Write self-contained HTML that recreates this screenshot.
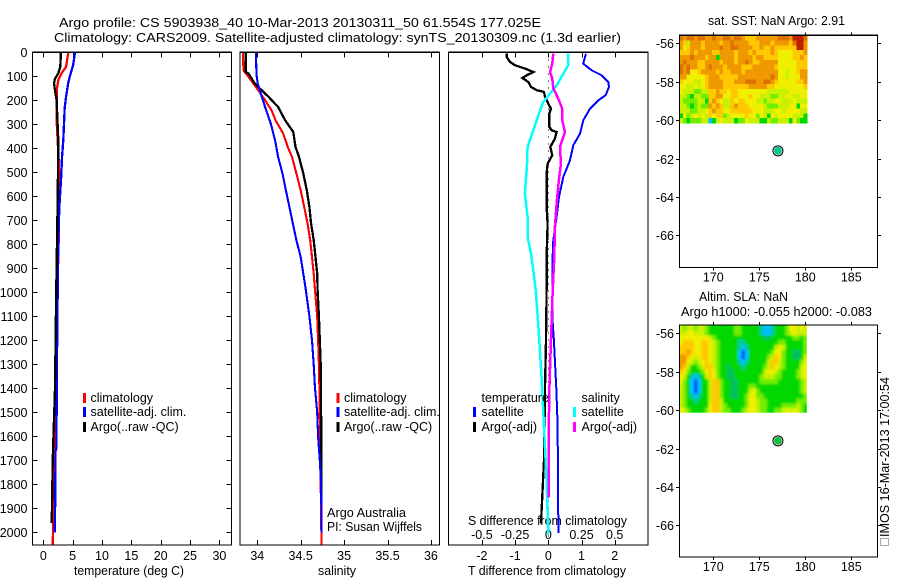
<!DOCTYPE html>
<html lang="en">
<head>
<meta charset="utf-8">
<title>Argo profile CS 5903938_40</title>
<style>
html,body{margin:0;padding:0;background:#fff;}
svg{display:block;}
text{font-family:"Liberation Sans",sans-serif;font-size:12.5px;fill:#000;}
</style>
</head>
<body>
<svg id="chart" xmlns="http://www.w3.org/2000/svg" width="900" height="580" viewBox="0 0 900 580">
<defs>
<filter id="smooth" x="-5%" y="-5%" width="110%" height="110%"><feGaussianBlur stdDeviation="1.1"/></filter>
<clipPath id="sla-clip"><rect x="679.5" y="325" width="127.2" height="87.6"/></clipPath>
</defs>
<rect x="0" y="0" width="900" height="580" fill="#fff"/>
<text x="59" y="27" textLength="482" lengthAdjust="spacingAndGlyphs">Argo profile: CS 5903938_40 10-Mar-2013 20130311_50 61.554S 177.025E</text>
<text x="54" y="42" textLength="567" lengthAdjust="spacingAndGlyphs">Climatology: CARS2009. Satellite-adjusted climatology: synTS_20130309.nc (1.3d earlier)</text>
<text x="74" y="575" textLength="110" lengthAdjust="spacingAndGlyphs">temperature (deg C)</text>
<text x="318" y="575" textLength="38" lengthAdjust="spacingAndGlyphs">salinity</text>
<text x="468" y="575" textLength="158" lengthAdjust="spacingAndGlyphs">T difference from climatology</text>
<text x="468" y="525" textLength="159" lengthAdjust="spacingAndGlyphs">S difference from climatology</text>
<text x="327" y="517" textLength="79" lengthAdjust="spacingAndGlyphs">Argo Australia</text>
<text x="327" y="531" textLength="95" lengthAdjust="spacingAndGlyphs">PI: Susan Wijffels</text>
<text x="708" y="25" textLength="137" lengthAdjust="spacingAndGlyphs">sat. SST: NaN Argo: 2.91</text>
<text x="699" y="301" textLength="89" lengthAdjust="spacingAndGlyphs">Altim. SLA: NaN</text>
<text x="681" y="316" textLength="191" lengthAdjust="spacingAndGlyphs">Argo h1000: -0.055 h2000: -0.083</text>
<rect x="880.5" y="538.5" width="8" height="7" fill="none" stroke="#555" stroke-width="1" stroke-dasharray="1 1"/>
<text transform="translate(889,537) rotate(-90)" textLength="160" lengthAdjust="spacingAndGlyphs">IMOS 16-Mar-2013 17:00:54</text>
</svg>
<script>
// ---- depth axis ----
const depthTicks = [0,100,200,300,400,500,600,700,800,900,1000,1100,1200,1300,1400,1500,1600,1700,1800,1900,2000];
// ---- temperature panel ----
const tempTicks = [0,5,10,15,20,25,30];
const tempClimDepth = [0,61,88,116,158,283,500,800,1100,1400,1800,2050];
const tempClim = [4.27,3.87,3.1,2.56,2.27,2.27,2.73,2.6,2.3,2.1,1.87,1.6];
const tempSatDepth = [0,52,88,125,187,230,366,437,510,650,790,1100,1400,1650,1660,1950,2000];
const tempSat = [5.4,5.1,4.66,4.26,3.87,3.64,3.4,3.18,3.07,2.73,2.56,2.4,2.28,2.25,2.1,2.0,1.95];
const tempArgoDepth = [0,60,88,110,130,165,200,366,500,713,1000,1400,1700,1900,1962];
const tempArgo = [3.0,2.9,2.56,2.0,1.82,2.05,2.27,2.56,2.5,2.38,2.2,2.0,1.6,1.48,1.42];
// ---- salinity panel ----
const salTicks = [34,34.5,35,35.5,36];
const salTickLabels = ['34','34.5','35','35.5','36'];
const salClimDepth = [0,75,103,158,200,242,283,339,394,436,505,575,644,714,783,853,922,992,1100,1200,1300,1400,2050];
const salClim = [33.835,33.84,33.9,34.01,34.09,34.165,34.21,34.3,34.35,34.4,34.45,34.5,34.54,34.58,34.61,34.63,34.65,34.665,34.69,34.7,34.71,34.715,34.74];
const salSatDepth = [0,89,130,172,228,297,367,436,505,575,644,714,783,853,922,992,1100,1200,1300,1400,1500,1600,1700,1800,1950,2000];
const salSat = [33.985,33.99,34.005,34.04,34.09,34.155,34.205,34.24,34.29,34.33,34.37,34.41,34.45,34.5,34.53,34.56,34.6,34.63,34.65,34.665,34.69,34.7,34.72,34.735,34.74,34.74];
const salArgoDepth = [0,82,89,130,158,186,228,283,332,394,436,505,575,644,714,783,853,922,992,1100,1200,1300,1400,1950];
const salArgo = [33.866,33.866,33.9,33.97,34.05,34.13,34.24,34.32,34.415,34.44,34.48,34.53,34.57,34.6,34.62,34.65,34.67,34.69,34.695,34.71,34.72,34.73,34.734,34.74];
// ---- difference panel ----
const tDiffTicks = [-2,-1,0,1,2];
const sDiffTicks = [-0.5,-0.25,0,0.25,0.5];
const sDiffTickLabels = ['-0.5','-0.25','0','0.25','0.5'];
const tArgoDepth = [6,19,40,54,68,82,96,107,124,144,158,165,186,214,235,256,311,325,332,360,394,429,464,506,644,714,853,992,1100,1200,1400,1700,1900,1963];
const tArgoDiff = [-1.255,-1.255,-1.155,-1.0,-0.7,-0.45,-0.65,-0.78,-0.6,-0.52,-0.35,-0.13,-0.1,0,0.08,0.03,0.03,0.1,0.25,0.2,0.06,0.12,-0.02,-0.05,-0.05,-0.02,-0.05,-0.05,-0.06,-0.07,-0.1,-0.13,-0.2,-0.22];
const tSatDepth = [6,47,75,96,124,144,179,200,235,283,339,387,450,519,603,686,783,853,992,1100,1200,1400,1550,1950,2003];
const tSatDiff = [1.135,1.05,1.305,1.606,1.807,1.827,1.727,1.506,1.255,1.054,0.954,0.753,0.653,0.452,0.321,0.251,0.151,0.13,0.12,0.12,0.17,0.24,0.28,0.3,0.3];
const sSatDepth = [6,54,89,138,172,207,262,325,394,478,589,686,769,839,908,992,1100,1200,1366,1500,1783,2010];
const sSatDiff = [0.15,0.15,0.113,0.063,0.0125,-0.038,-0.075,-0.113,-0.156,-0.161,-0.176,-0.156,-0.156,-0.13,-0.113,-0.095,-0.08,-0.068,-0.05,-0.038,-0.0125,0];
const sArgoDepth = [6,47,82,110,151,193,235,283,332,394,464,533,617,728,853,992,1366,1500,1785,1855];
const sArgoDiff = [0.038,0.03,0.0125,0.03,0.038,0.075,0.105,0.105,0.125,0.088,0.095,0.08,0.065,0.05,0.045,0.033,0.01,0.005,0.003,0.003];
// ---- maps ----
const mapLonTicks = [170,175,180,185];
const mapLatTicks = [-56,-58,-60,-62,-64,-66];
const floatLon = [177.025];
const floatLat = [-61.6];
const levelColors = ['#0050ff','#00c0ff','#00c8a0','#00d800','#70ee00','#c8f000','#eef000','#ffc800','#f09800','#e07000','#c02000','#00c060'];
const sstGrid = [
[9,8,9,9,8,9,9,8,8,9,8,8,9,9,8,9,9,8,7,7,7,8,8,8,8,8,8,9,9,9,8,10,10,10,9],
[8,7,5,8,8,8,7,8,8,8,8,7,8,8,9,8,8,8,8,7,7,7,8,8,8,7,8,8,8,8,7,9,10,10,8],
[8,6,7,8,8,8,7,8,8,8,8,9,8,8,9,9,8,8,8,8,7,7,8,7,7,8,7,7,7,7,7,7,10,10,8],
[7,7,7,8,7,8,8,8,8,7,7,8,8,8,8,7,8,8,8,7,8,7,7,7,7,8,7,6,6,6,6,7,7,7,8],
[8,8,8,9,8,8,8,7,8,8,3,8,8,8,8,7,8,8,8,8,7,8,8,7,7,7,7,6,6,6,6,7,7,8,7],
[8,9,8,8,8,7,7,8,8,8,8,7,8,8,8,7,8,8,9,8,7,7,8,8,8,8,8,6,6,6,6,6,7,7,7],
[9,8,9,8,8,7,7,8,9,8,8,8,7,8,8,8,8,7,7,7,8,8,8,8,8,8,7,6,6,6,6,6,7,7,7],
[9,8,9,6,6,7,8,8,8,8,7,8,7,7,8,8,8,7,8,8,8,8,8,8,8,8,8,6,6,5,6,6,7,8,8],
[8,8,6,6,6,6,6,7,8,8,8,7,7,7,7,7,8,8,8,8,8,8,8,8,8,9,8,6,6,5,6,6,6,8,8],
[7,6,6,6,5,5,6,7,8,8,8,8,7,7,7,8,8,8,9,9,9,8,8,9,9,8,7,6,6,6,6,6,7,7,8],
[6,6,5,5,6,5,6,7,8,8,8,8,7,7,7,7,7,7,7,8,8,8,8,8,7,7,6,6,6,6,6,6,6,6,7],
[6,5,5,5,4,4,5,5,7,7,8,7,7,6,7,7,6,6,6,6,6,6,6,6,5,5,5,5,5,5,6,6,6,6,6],
[5,5,4,3,5,5,4,4,7,7,8,8,6,6,7,7,6,6,6,7,6,6,5,5,5,4,4,5,5,6,6,5,5,6,6],
[5,4,4,4,4,5,5,3,7,8,7,6,5,5,7,6,7,7,6,6,6,5,5,4,5,5,6,6,5,5,5,6,5,5,5],
[5,5,4,3,4,5,4,4,8,7,8,7,5,5,7,8,7,7,7,6,6,6,6,5,4,4,4,5,5,5,6,6,3,6,6],
[5,5,5,4,4,5,5,6,7,8,7,7,6,6,7,7,7,7,7,7,6,6,6,5,5,5,6,6,5,6,6,6,6,5,5],
[3,6,4,5,6,5,6,5,7,6,7,7,4,5,6,6,6,6,7,6,6,4,6,5,3,6,5,6,6,6,6,5,5,5,3],
[5,4,3,4,4,4,5,5,1,3,5,6,5,5,5,3,4,4,6,5,5,5,3,3,5,4,4,5,5,5,3,6,4,3,3]
];
const slaGrid = [
[5,4,5,5,4,5,5,4,3,3,3,3,3,3,3,4,4,3,3,3,3,3,2,1,1,2,3,3,3,4,6,6,5,6,5],
[5,5,6,6,5,5,5,4,3,3,3,3,3,3,3,4,4,3,3,3,3,3,2,1,1,2,3,3,3,4,5,6,5,5,5],
[6,6,6,6,6,6,6,6,5,4,3,3,3,3,3,3,3,3,3,3,3,3,3,11,11,3,3,3,3,3,3,4,4,3,4],
[6,7,7,7,6,6,7,7,6,5,4,3,3,3,3,3,2,2,3,3,3,3,3,3,3,3,3,4,4,3,3,3,3,3,4],
[7,7,7,7,6,6,7,7,6,5,4,3,3,3,3,3,2,1,2,3,3,3,3,3,3,3,5,6,5,3,3,3,3,3,4],
[7,7,8,7,6,6,7,7,6,5,4,3,3,3,3,3,1,0,1,3,3,3,3,3,3,4,6,6,4,3,3,11,11,3,4],
[8,8,7,6,5,6,7,7,6,5,4,3,3,3,3,3,1,0,1,3,3,3,3,3,4,5,7,6,4,3,3,11,11,3,5],
[8,8,6,5,4,5,6,7,6,5,4,3,3,3,3,3,2,1,2,3,3,3,3,3,5,7,7,5,4,3,3,3,3,4,6],
[8,7,5,3,3,4,5,7,7,5,4,3,3,11,3,3,3,2,3,3,3,3,3,4,5,7,6,5,4,3,3,3,3,5,6],
[7,6,4,3,3,3,4,6,7,6,4,3,3,11,11,3,3,3,3,3,3,3,3,5,6,6,5,4,3,3,3,3,4,5,6],
[6,5,3,2,1,2,3,5,7,6,4,3,3,11,11,3,3,3,3,3,3,3,4,5,5,5,4,4,3,3,3,3,4,5,6],
[6,4,3,1,0,1,3,3,5,7,7,4,3,3,11,11,3,3,3,3,3,3,4,4,4,4,4,3,3,3,3,3,3,4,5],
[5,4,3,1,0,1,3,3,5,7,7,4,3,3,11,11,3,3,3,4,4,3,3,3,3,3,3,3,3,3,3,3,3,4,5],
[5,4,3,1,0,1,3,3,5,7,7,4,3,3,11,11,3,3,3,5,6,4,3,3,3,3,3,3,3,3,3,3,3,4,5],
[5,4,3,2,1,2,3,3,5,7,7,4,3,3,11,11,3,3,4,6,6,4,4,3,3,3,3,3,3,3,3,3,3,3,4],
[5,4,3,3,2,3,3,3,5,7,7,5,3,3,3,3,3,3,4,6,6,5,4,4,3,3,3,3,3,3,3,3,4,4,4],
[5,4,3,3,3,3,3,3,6,7,7,5,4,3,3,3,3,3,4,6,6,5,4,4,3,3,3,3,4,4,4,4,5,4,3],
[6,5,4,3,3,3,3,4,6,7,7,5,4,4,3,3,3,4,5,6,6,5,4,4,3,3,4,4,5,6,5,6,5,4,3]
];
const gridLonStart = 166.3;
const gridLonStep = 0.3975;
const gridLatStart = -55.6;
const gridLatStep = -0.2528;

// ---- helpers ----
const svg = document.getElementById('chart');
const NS = 'http://www.w3.org/2000/svg';
function mk(parent, tag, attrs, txt) {
  const e = document.createElementNS(NS, tag);
  for (const k in attrs) e.setAttribute(k, attrs[k]);
  if (txt !== undefined) e.textContent = txt;
  parent.appendChild(e);
  return e;
}
const top0 = 52.3, pxPerMetre = 0.24, bottom0 = 545;
function yDepth(d) { return top0 + d * pxPerMetre; }
function xTemp(v) { return 43.3 + 5.87 * v; }
function xSal(v) { return 257.3 + 86.8 * (v - 34); }
function xTDiff(v) { return 548.3 + 33.2 * v; }
function xSDiff(v) { return 548.3 + 132.8 * v; }
function lonMap(v) { return 713.3 + 9.2 * (v - 170); }
function latMap(v, m) { return m.y56 + 19.2 * (-56 - v); }

function frame(name, l, t, r, b) {
  const el = mk(svg, 'rect', {x: l, y: t, width: r - l, height: b - t, fill: 'none', stroke: '#000', 'stroke-width': 1.2, 'shape-rendering': 'crispEdges'});
  
  
}
function tick(name, x1, y1, x2, y2) {
  const el = mk(svg, 'line', {x1: x1, y1: y1, x2: x2, y2: y2, stroke: '#000', 'stroke-width': 1, 'shape-rendering': 'crispEdges'});
  
  
}
function label(name, x, y, anchor, s) {
  const el = mk(svg, 'text', {x: x, y: y, 'text-anchor': anchor}, s);
  
  
}
function series(name, color, width, depths, vals, xf) {
  const pts = depths.map((d, i) => xf(vals[i]).toFixed(1) + ',' + yDepth(d).toFixed(1)).join(' ');
  const el = mk(svg, 'polyline', {points: pts, fill: 'none', stroke: color, 'stroke-width': width, 'stroke-linejoin': 'miter', 'shape-rendering': 'crispEdges'});
  
  
}
function legendBar(name, color, x, y) {
  const el = mk(svg, 'rect', {x: x, y: y, width: 3, height: 10, fill: color, 'shape-rendering': 'crispEdges'});
  
  
}

// ---- profile panels: frames and ticks ----
const panels = [
  {name: 'temperature', l: 32.5, r: 231.5, ticks: tempTicks, labels: tempTicks.map(String), xf: xTemp},
  {name: 'salinity', l: 240, r: 439.5, ticks: salTicks, labels: salTickLabels, xf: xSal},
  {name: 'difference', l: 448.5, r: 648, ticks: tDiffTicks, labels: tDiffTicks.map(String), xf: xTDiff}
];
panels.forEach(p => {
  p.ticks.forEach((t, i) => {
    const x = Math.round(p.xf(t)) + 0.5;
    tick(p.name + '-top-tick', x, top0, x, top0 + 5);
    tick(p.name + '-bottom-tick', x, bottom0, x, bottom0 - 5);
    label(p.name + '-x-tick-label', p.xf(t), 560, 'middle', p.labels[i]);
  });
});
sDiffTicks.forEach((t, i) => {
  label('s-difference-x-tick-label', xSDiff(t), 539, 'middle', sDiffTickLabels[i]);
});
depthTicks.forEach(d => {
  const y = Math.round(yDepth(d)) + 0.5;
  tick('depth-left-tick', 32.5, y, 37.5, y);
  tick('depth-right-tick', 226.5, y, 231.5, y);
  label('depth-tick-label', 27.5, y + 4.5, 'end', String(d));
});

// ---- zero line on difference panel ----
const zeroLine = mk(svg, 'line', {x1: xTDiff(0), y1: top0, x2: xTDiff(0), y2: bottom0, stroke: '#000', 'stroke-width': 1, 'stroke-dasharray': '1 6', 'shape-rendering': 'crispEdges'});



// ---- series ----
series('temperature-climatology-line', '#ff0000', 2.3, tempClimDepth, tempClim, xTemp);
series('temperature-satellite-line', '#0000ff', 2.3, tempSatDepth, tempSat, xTemp);
series('temperature-argo-line', '#000000', 2.3, tempArgoDepth, tempArgo, xTemp);
series('salinity-climatology-line', '#ff0000', 2.1, salClimDepth, salClim, xSal);
series('salinity-argo-line', '#000000', 2.3, salArgoDepth, salArgo, xSal);
series('salinity-satellite-line', '#0000ff', 2.1, salSatDepth, salSat, xSal);
series('t-diff-satellite-line', '#0000ff', 2, tSatDepth, tSatDiff, xTDiff);
series('t-diff-argo-line', '#000000', 2.3, tArgoDepth, tArgoDiff, xTDiff);
series('s-diff-satellite-line', '#00ffff', 2.5, sSatDepth, sSatDiff, xSDiff);
series('s-diff-argo-line', '#ff00ff', 2.5, sArgoDepth, sArgoDiff, xSDiff);

panels.forEach(p => frame(p.name + '-panel-frame', p.l, top0, p.r, bottom0));

// ---- legends ----
const legendLabels = ['climatology', 'satellite-adj. clim.', 'Argo(..raw -QC)'];
const legendColors = ['#ff0000', '#0000ff', '#000000'];
const legendRowY = [393, 407, 422];
const legendTextY = [402, 416, 431];
[[83, 90.5], [336.5, 344]].forEach(c => {
  legendLabels.forEach((s, i) => {
    legendBar('legend-swatch', legendColors[i], c[0], legendRowY[i]);
    label('legend-entry', c[1], legendTextY[i], 'start', s);
  });
});
label('legend-temperature-header', 481.5, 402, 'start', 'temperature');
label('legend-salinity-header', 581.5, 402, 'start', 'salinity');
label('legend-entry', 481.5, 416, 'start', 'satellite');
label('legend-entry', 481.5, 431, 'start', 'Argo(-adj)');
label('legend-entry', 581.5, 416, 'start', 'satellite');
label('legend-entry', 581.5, 431, 'start', 'Argo(-adj)');
legendBar('legend-swatch', '#0000ff', 473, 407);
legendBar('legend-swatch', '#000000', 473, 422);
legendBar('legend-swatch', '#00ffff', 573, 407);
legendBar('legend-swatch', '#ff00ff', 573, 422);

// ---- maps ----
const maps = [
  {name: 'sst-map', grid: sstGrid, top: 35.3, bottom: 267.5, y56: 43.3, dot: '#00c890', smooth: false},
  {name: 'sla-map', grid: slaGrid, top: 325, bottom: 557, y56: 333.3, dot: '#10c040', smooth: true}
];
maps.forEach(m => {
  const cw = 9.2 * gridLonStep;
  const ch = 19.2 * -gridLatStep;
  const layers = m.smooth ? [false, true] : [false];
  const host = mk(svg, 'g', m.smooth ? {'clip-path': 'url(#sla-clip)'} : {});
  
  
  layers.forEach(blurred => {
    const layer = mk(host, 'g', blurred ? {filter: 'url(#smooth)'} : {});
    m.grid.forEach((row, r) => {
      row.forEach((lv, c) => {
        const cell = mk(layer, 'rect', {
          x: lonMap(gridLonStart + c * gridLonStep).toFixed(2),
          y: latMap(gridLatStart + r * gridLatStep, m).toFixed(2),
          width: (cw + 0.4).toFixed(2),
          height: (ch + 0.4).toFixed(2),
          fill: levelColors[lv],
          'shape-rendering': 'crispEdges'
        });
        
        
      });
    });
  });
  frame(m.name + '-frame', 679.5, m.top, 877.5, m.bottom);
  mapLonTicks.forEach(v => {
    const x = Math.round(lonMap(v)) + 0.5;
    tick(m.name + '-top-tick', x, m.top - 3, x, m.top);
    tick(m.name + '-bottom-tick', x, m.bottom, x, m.bottom + 3);
    label(m.name + '-lon-label', lonMap(v), m.bottom + 14, 'middle', String(v));
  });
  mapLatTicks.forEach(v => {
    const y = Math.round(latMap(v, m)) + 0.5;
    tick(m.name + '-left-tick', 676, y, 679.5, y);
    tick(m.name + '-right-tick', 877.5, y, 881, y);
    label(m.name + '-lat-label', 674, y + 4.5, 'end', String(v));
  });
  const ring = mk(svg, 'circle', {cx: lonMap(floatLon[0]), cy: latMap(floatLat[0], m), r: 5, fill: '#fff', stroke: '#000', 'stroke-width': 1});
  
  
  const dot = mk(svg, 'circle', {cx: lonMap(floatLon[0]), cy: latMap(floatLat[0], m), r: 3.9, fill: m.dot});
  
  
});
</script>
</body>
</html>
